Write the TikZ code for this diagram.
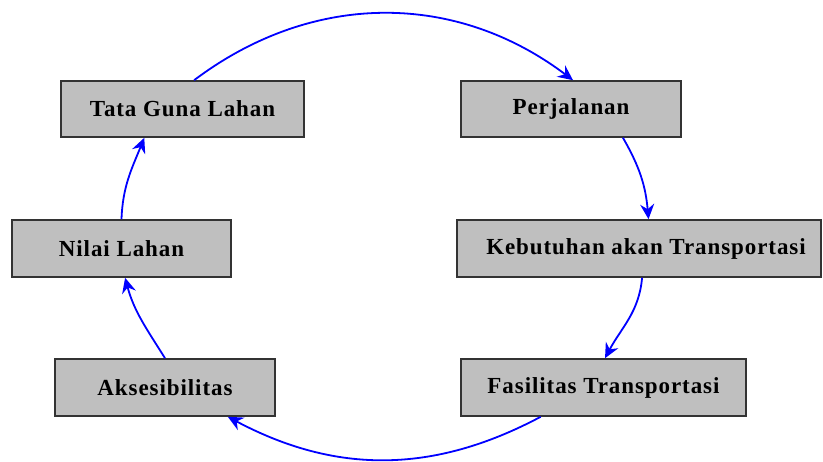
\documentclass[tikz,border=0pt]{standalone}
\usepackage{fontspec}
\setmainfont{Liberation Serif}[LetterSpace=4]
\usetikzlibrary{arrows.meta}
\begin{document}
\begin{tikzpicture}[x=1pt,y=-1pt,
  stage/.style={draw=black!80, line width=1.6pt, fill=black!25,
    inner sep=0pt, font=\fontsize{23}{27}\selectfont\bfseries},
  flow/.style={draw=blue, line width=1.8pt,
    -{Stealth[length=15pt,width=14pt,inset=5pt]}}]
  \useasboundingbox (0,0) rectangle (823,462);

  % process stages
  \node[stage, minimum width=243pt, minimum height=56pt] (tata) at (182.5,109) {Tata Guna Lahan};
  \node[stage, minimum width=220pt, minimum height=56pt] (perj) at (571,109) {Perjalanan};
  \node[stage, minimum width=364pt, minimum height=57pt] (keb) at (639,248.5) {\hspace*{14pt}Kebutuhan akan Transportasi};
  \node[stage, minimum width=285pt, minimum height=57pt] (fas) at (603.5,387.5) {Fasilitas Transportasi};
  \node[stage, minimum width=220pt, minimum height=57pt] (aks) at (165,387.5) {Aksesibilitas};
  \node[stage, minimum width=219pt, minimum height=57pt] (nil) at (121.5,248.5) {Nilai Lahan};

  % cycle connectors
  \draw[flow] (tata.68) to[bend left=37] (perj.86);
  \draw[flow] (perj.-29) to[out=-60,in=95] (keb.72);
  \draw[flow] (keb.-84) to[out=-95,in=62] (fas.87);
  \draw[flow] (fas.-155) to[bend left=28] (aks.-25);
  \draw[flow] (aks.north) to[out=122,in=-75] (nil.-83);
  \draw[flow] (nil.north) to[out=88,in=-112] (tata.-143);
\end{tikzpicture}
\end{document}
